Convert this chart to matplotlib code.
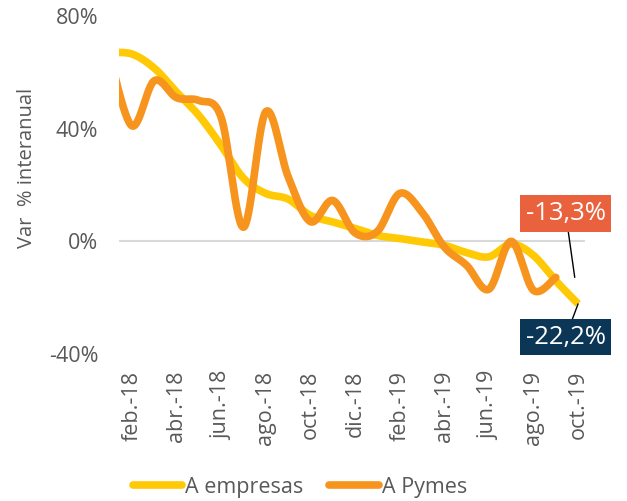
import matplotlib.pyplot as plt
import numpy as np
from matplotlib.lines import Line2D

plt.rcParams["font.family"] = ["Open Sans", "DejaVu Sans"]

months = ["ene.-18", "feb.-18", "mar.-18", "abr.-18", "may.-18", "jun.-18", "jul.-18",
          "ago.-18", "sep.-18", "oct.-18", "nov.-18", "dic.-18", "ene.-19", "feb.-19",
          "mar.-19", "abr.-19", "may.-19", "jun.-19", "jul.-19", "ago.-19", "sep.-19",
          "oct.-19"]
empresas = [67, 66.5, 61.5, 53, 44.7, 34, 22.4, 17, 15, 9.2, 6.9, 4.6, 2.1, 1, -0.2,
            -1.4, -4, -5.5, -1, -5, -14, -22.2]
pymes = [66, 41, 57, 51, 50, 44, 5, 46, 23, 7, 14.5, 3, 3.5, 17, 10.4, -2, -8.5, -17,
         0, -17.4, -12.8]

YELLOW = "#FFC905"
ORANGE = "#F7941D"
GREY = "#595959"


def smooth(y, n=30):
    # excel-like smoothed line (catmull-rom as bezier)
    y = np.asarray(y, float)
    x = np.arange(len(y), dtype=float)
    pts = np.column_stack([x, y])
    out = []
    for i in range(len(pts) - 1):
        p0 = pts[max(i - 1, 0)]
        p1 = pts[i]
        p2 = pts[i + 1]
        p3 = pts[min(i + 2, len(pts) - 1)]
        c1 = p1 + (p2 - p0) / 6
        c2 = p2 - (p3 - p1) / 6
        t = np.linspace(0, 1, n, endpoint=False)[:, None]
        seg = ((1 - t) ** 3) * p1 + 3 * ((1 - t) ** 2) * t * c1 + 3 * (1 - t) * t ** 2 * c2 + t ** 3 * p2
        out.append(seg)
    out.append(pts[-1:])
    out = np.vstack(out)
    return out[:, 0], out[:, 1]


fig = plt.figure(figsize=(6.27, 5.01), dpi=100)
ax = fig.add_axes([119 / 627, 1 - 354 / 501, (585 - 119) / 627, (354 - 16) / 501])

ax.axhline(0, color="#D9D9D9", lw=1.5, zorder=1)
xe, ye = smooth(empresas)
xp, yp = smooth(pymes)
ax.plot(xe, ye, color=YELLOW, lw=5.5, solid_capstyle="butt", zorder=2)
ax.plot(xp, yp, color=ORANGE, lw=5.5, solid_capstyle="round", zorder=3)

ax.set_xlim(0.42, 21.31)
ax.set_ylim(-40, 80)
ax.set_yticks([-40, 0, 40, 80])
ax.set_yticklabels([f"{v}%" for v in [-40, 0, 40, 80]])
ticks = list(range(1, len(months), 2))
ax.set_xticks(ticks)
ax.set_xticklabels([months[i] for i in ticks], rotation=90, va="top", ha="center")
ax.tick_params(axis="both", length=0, colors=GREY)
ax.tick_params(axis="y", labelsize=15.5, pad=15)
ax.tick_params(axis="x", labelsize=15.5, pad=12)
for s in ax.spines.values():
    s.set_visible(False)

fig.text(27 / 627, 1 - 168 / 501, "Var  % interanual", rotation=90, ha="center",
         va="center", fontsize=14.5, color=GREY)

# data labels
ax.annotate("-13,3%", xy=(len(pymes) - 1 + 0.85, pymes[-1]), xytext=(-6.5, 46),
            textcoords="offset points", ha="center", va="center", fontsize=18.5,
            color="white", zorder=5,
            bbox=dict(boxstyle="square,pad=0.22", fc="#E9613D", ec="none"),
            arrowprops=dict(arrowstyle="-", color="black", lw=1, shrinkA=0, shrinkB=0))
ax.annotate("-22,2%", xy=(len(empresas) - 1, empresas[-1]), xytext=(-9, -24),
            textcoords="offset points", ha="center", va="center", fontsize=18.5,
            color="white", zorder=5,
            bbox=dict(boxstyle="square,pad=0.22", fc="#0C3656", ec="none"),
            arrowprops=dict(arrowstyle="-", color="black", lw=1, shrinkA=0, shrinkB=0))

handles = [Line2D([], [], color=YELLOW, lw=5.5, solid_capstyle="round"),
           Line2D([], [], color=ORANGE, lw=5.5, solid_capstyle="round")]
fig.legend(handles, ["A empresas", "A Pymes"], loc="center",
           bbox_to_anchor=(300 / 627, 1 - 487 / 501), ncol=2, frameon=False,
           fontsize=15.5, labelcolor=GREY, handlelength=2.3, handletextpad=0.15,
           columnspacing=1.2)

fig.savefig("out.png", dpi=100)
